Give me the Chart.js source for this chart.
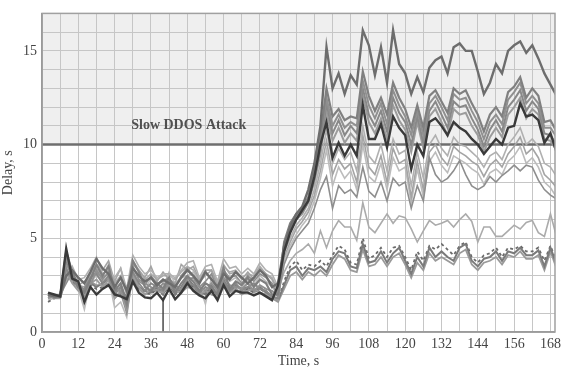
<!DOCTYPE html>
<html>
<head>
<meta charset="utf-8">
<script src="https://cdn.jsdelivr.net/npm/chart.js@4/dist/chart.umd.min.js"></script>
<style>
  html, body { margin: 0; padding: 0; background: #fff; }
  canvas { display: block; }
</style>
</head>
<body>
<canvas id="delayChart" width="565" height="370"></canvas>
<script>
// sample times, s
const times = [
  2, 4, 6, 8, 10, 12, 14, 16, 18, 20, 22, 24, 26, 28, 30, 32, 34, 36, 38, 40,
  42, 44, 46, 48, 50, 52, 54, 56, 58, 60, 62, 64, 66, 68, 70, 72, 74, 76, 78,
  80, 82, 84, 86, 88, 90, 92, 94, 96, 98, 100, 102, 104, 106, 108, 110, 112, 114, 116, 118,
  120, 122, 124, 126, 128, 130, 132, 134, 136, 138, 140, 142, 144, 146, 148, 150, 152, 154, 156, 158,
  160, 162, 164, 166, 168, 170
];

// delay per node, s (before attack: 2..78, attack: 80..170)
const nodeTop = [
  2.0, 1.9, 1.9, 3.0, 3.3, 2.9, 2.6, 3.2, 3.9, 3.4, 3.1, 2.4, 2.9, 2.2, 3.4, 3.0, 2.7, 2.9, 2.5, 2.8,
  2.6, 2.4, 2.9, 3.3, 3.0, 2.6, 3.2, 2.8, 2.4, 3.1, 2.8, 3.2, 2.9, 2.6, 2.9, 3.3, 3.0, 2.4, 2.6,
  4.6, 5.6, 6.3, 6.7, 7.6, 9.0, 11.0, 15.2, 13.0, 13.8, 12.7, 13.7, 13.2, 16.1, 15.3, 13.7, 15.2, 13.3, 16.1, 14.3,
  13.8, 12.7, 13.6, 12.8, 14.1, 14.5, 14.7, 13.8, 15.2, 15.4, 15.0, 15.0, 13.9, 12.7, 13.3, 14.3, 13.8, 15.0, 15.3, 15.5,
  14.9, 15.3, 14.6, 13.8, 13.2, 12.6
];
const nodeB1 = [
  2.0, 1.9, 1.9, 4.3, 3.2, 2.4, 2.1, 2.8, 3.6, 3.0, 3.5, 2.2, 2.6, 1.6, 3.8, 3.2, 2.4, 2.2, 2.6, 2.3,
  2.9, 2.1, 2.6, 3.0, 2.7, 2.2, 2.6, 2.4, 2.0, 3.4, 2.3, 2.7, 2.5, 2.9, 2.4, 2.8, 2.6, 2.0, 2.0,
  4.8, 5.8, 6.3, 6.6, 7.2, 8.6, 10.5, 13.0, 11.5, 11.9, 11.3, 11.5, 11.4, 13.9, 12.6, 11.8, 12.5, 11.6, 13.3, 12.5,
  11.9, 10.9, 12.1, 10.9, 12.6, 12.9, 12.3, 11.7, 13.0, 12.7, 12.9, 12.2, 11.6, 10.7, 11.6, 12.0, 11.5, 12.8, 13.1, 13.6,
  12.5, 13.0, 12.6, 11.2, 11.3, 10.7
];
const nodeB2 = [
  2.1, 1.8, 1.9, 4.0, 3.0, 2.6, 1.8, 2.5, 3.3, 2.8, 3.2, 2.5, 2.1, 1.9, 3.5, 2.8, 2.6, 2.4, 2.2, 2.6,
  2.4, 2.3, 2.3, 2.8, 2.9, 2.4, 2.2, 2.6, 2.2, 2.9, 2.5, 2.4, 2.3, 2.6, 2.2, 2.5, 2.3, 2.2, 1.9,
  4.7, 5.6, 6.2, 6.6, 7.1, 8.4, 10.2, 12.5, 11.0, 11.6, 10.9, 11.2, 11.0, 13.4, 12.1, 11.4, 12.2, 11.1, 12.9, 12.1,
  11.5, 10.5, 11.8, 10.5, 12.2, 12.6, 12.0, 11.3, 12.7, 12.4, 12.5, 11.8, 11.2, 10.3, 11.2, 11.6, 11.1, 12.4, 12.8, 13.3,
  12.2, 12.6, 12.2, 10.9, 10.9, 10.4
];
const nodeB3 = [
  1.9, 1.9, 2.0, 3.4, 2.8, 2.4, 2.3, 2.9, 3.1, 2.6, 3.0, 2.0, 2.4, 1.4, 3.2, 2.6, 2.2, 2.6, 2.4, 2.2,
  2.7, 2.5, 2.2, 2.6, 2.5, 2.1, 2.4, 2.2, 2.1, 2.7, 2.2, 2.6, 2.2, 2.4, 2.6, 2.3, 2.2, 1.9, 1.8,
  4.5, 5.5, 6.1, 6.4, 7.0, 8.2, 9.8, 12.2, 10.6, 11.3, 10.5, 11.0, 10.6, 13.0, 11.6, 11.0, 11.8, 10.7, 12.5, 11.7,
  11.2, 10.0, 11.5, 10.1, 11.8, 12.3, 11.6, 10.9, 12.3, 12.0, 12.1, 11.4, 10.8, 9.9, 10.8, 11.3, 10.7, 12.0, 12.4, 12.9,
  11.8, 12.3, 11.9, 10.6, 10.5, 10.0
];
const nodeB4 = [
  2.0, 1.8, 1.8, 3.2, 2.6, 2.2, 2.0, 2.6, 2.8, 2.4, 2.8, 1.8, 2.2, 1.2, 3.0, 2.4, 2.0, 2.3, 2.2, 2.1,
  2.5, 2.2, 2.1, 2.4, 2.3, 2.0, 2.2, 2.0, 1.9, 2.5, 2.1, 2.3, 2.0, 2.2, 2.3, 2.1, 2.0, 1.8, 1.7,
  4.4, 5.4, 6.0, 6.3, 6.9, 8.0, 9.5, 11.8, 10.2, 10.9, 10.1, 10.6, 10.2, 12.6, 11.2, 10.6, 11.4, 10.3, 12.1, 11.3,
  10.8, 9.6, 11.2, 9.8, 11.5, 11.9, 11.2, 10.5, 11.9, 11.6, 11.7, 11.0, 10.5, 9.6, 10.4, 10.9, 10.4, 11.6, 12.0, 12.5,
  11.4, 11.9, 11.6, 10.3, 10.2, 9.7
];
const nodeDark = [
  2.1, 2.0, 1.9, 4.45, 2.85, 2.7, 1.6, 2.4, 2.0, 2.3, 2.5, 2.0, 1.9, 1.75, 2.7, 2.1, 1.85, 1.8, 2.1, 1.7,
  2.3, 1.75, 2.1, 2.6, 2.2, 1.95, 1.8, 2.2, 1.7, 2.5, 1.9, 2.2, 2.1, 2.1, 1.95, 2.1, 1.9, 1.7, 2.5,
  4.3, 5.3, 6.0, 6.5, 7.0, 8.3, 10.0, 11.2, 9.3, 10.1, 9.4, 10.0, 9.4, 12.1, 10.3, 10.3, 11.1, 9.85, 11.5, 10.9,
  10.5, 8.7, 10.0, 9.4, 11.2, 11.4, 11.0, 10.5, 11.2, 10.9, 10.7, 10.3, 10.0, 9.5, 9.9, 10.3, 10.0, 10.9, 11.0, 12.2,
  11.5, 11.6, 11.3, 10.1, 10.6, 9.6
];
const nodeD1 = [
  1.8, 2.0, 2.0, 2.9, 3.5, 2.8, 2.9, 3.4, 4.0, 3.1, 3.3, 2.9, 3.4, 2.3, 4.1, 3.5, 3.1, 3.3, 2.9, 3.1,
  3.1, 2.9, 3.3, 3.7, 3.8, 2.9, 3.5, 3.6, 2.7, 3.9, 3.4, 3.5, 3.1, 3.4, 3.1, 3.7, 3.3, 3.1, 2.4,
  4.2, 5.0, 5.7, 6.1, 6.6, 7.6, 9.0, 10.8, 9.0, 9.8, 9.2, 9.6, 8.6, 11.0, 9.4, 9.0, 10.0, 8.6, 10.3, 9.5,
  9.7, 7.8, 9.6, 8.2, 10.0, 10.5, 9.8, 9.4, 10.4, 10.0, 9.9, 9.6, 9.3, 8.8, 9.4, 9.6, 9.2, 10.0, 10.4, 10.9,
  10.0, 10.3, 9.9, 9.0, 8.8, 8.3
];
const nodeD2 = [
  1.9, 1.9, 1.8, 2.8, 3.0, 2.5, 2.4, 3.1, 3.6, 3.3, 3.8, 2.7, 3.4, 2.0, 3.6, 3.3, 2.9, 3.5, 2.7, 3.2,
  2.8, 2.6, 3.6, 3.3, 3.5, 2.8, 3.3, 3.3, 2.5, 3.6, 3.1, 3.2, 2.8, 3.2, 2.8, 3.4, 3.1, 2.8, 2.2,
  4.0, 4.8, 5.5, 5.9, 6.4, 7.3, 8.6, 10.2, 8.4, 9.2, 8.7, 9.0, 8.0, 10.5, 8.8, 8.4, 9.4, 8.0, 9.8, 9.0,
  9.2, 7.2, 9.1, 7.6, 9.6, 10.0, 9.3, 8.9, 9.9, 9.6, 9.4, 9.1, 8.9, 8.3, 8.9, 9.2, 8.8, 9.5, 9.9, 10.4,
  9.5, 9.8, 9.3, 8.4, 8.1, 7.7
];
const nodeD3 = [
  1.7, 1.8, 1.9, 3.1, 2.7, 2.3, 1.2, 2.7, 3.0, 2.7, 2.9, 1.3, 1.6, 0.8, 3.3, 2.4, 2.2, 2.9, 2.4, 2.4,
  3.2, 2.6, 2.9, 3.0, 3.2, 2.5, 1.5, 2.9, 2.1, 3.2, 2.7, 2.9, 2.4, 2.8, 2.5, 3.0, 2.7, 2.4, 2.0,
  3.8, 4.6, 5.2, 5.7, 6.1, 7.0, 8.2, 9.7, 7.8, 8.8, 8.2, 8.6, 7.6, 10.0, 8.3, 8.0, 9.0, 7.6, 9.3, 8.6,
  8.8, 6.9, 8.7, 7.2, 9.1, 9.6, 8.9, 8.5, 9.4, 9.2, 9.0, 8.7, 8.5, 7.9, 8.5, 8.7, 8.4, 9.1, 9.4, 9.9,
  9.0, 9.3, 8.8, 8.0, 7.7, 7.2
];
const nodeE = [
  1.8, 1.9, 2.0, 2.6, 3.2, 2.6, 2.2, 2.9, 3.2, 2.9, 3.1, 1.8, 2.1, 1.0, 3.0, 2.7, 2.5, 3.0, 2.6, 2.7,
  2.9, 2.4, 3.0, 3.4, 3.0, 2.4, 2.7, 3.1, 2.3, 3.3, 2.9, 3.0, 2.6, 3.0, 2.7, 3.1, 2.9, 2.6, 1.9,
  3.6, 4.4, 5.0, 5.4, 5.8, 6.6, 7.6, 8.3, 6.6, 7.8, 7.4, 7.6, 7.2, 8.8, 7.5, 7.2, 8.0, 7.0, 8.2, 7.8,
  8.0, 6.6, 7.8, 7.0, 9.3, 8.4, 8.0, 8.2, 8.6, 9.15, 8.4, 7.8, 7.6, 7.8, 8.3, 8.0, 8.35, 8.6, 8.9, 8.6,
  8.9, 8.8, 8.1, 7.6, 7.3, 7.1
];
const nodeF = [
  1.9, 1.8, 1.9, 2.8, 3.1, 2.5, 2.7, 3.0, 3.4, 3.0, 3.6, 2.6, 3.0, 2.0, 3.8, 3.3, 2.8, 3.1, 2.8, 3.0,
  3.0, 2.8, 3.2, 3.5, 3.3, 2.7, 3.0, 3.3, 2.6, 3.5, 3.2, 3.3, 2.9, 3.1, 3.0, 3.5, 3.1, 2.9, 2.2,
  3.2, 3.8, 4.2, 4.4, 4.7, 4.2, 5.4, 4.5, 5.4, 5.95, 5.6, 5.6, 4.9, 6.9, 5.6, 5.3, 5.8, 6.3, 5.8, 6.2,
  6.1, 5.5, 4.8, 5.4, 5.95, 5.7, 5.8, 5.95, 5.6, 6.0, 6.3, 5.9, 4.8, 5.6, 5.6, 5.1, 5.1, 5.4, 5.7, 5.5,
  5.85, 5.95, 5.3, 5.1, 6.3, 5.1
];
const nodeG1 = [
  2.0, 1.9, 1.9, 3.9, 2.9, 2.5, 2.0, 2.6, 2.4, 2.6, 2.8, 2.3, 2.2, 1.9, 2.9, 2.4, 2.2, 2.1, 2.4, 2.0,
  2.6, 2.0, 2.4, 2.9, 2.5, 2.2, 2.0, 2.5, 1.9, 2.8, 2.2, 2.5, 2.3, 2.4, 2.2, 2.4, 2.1, 1.9, 1.7,
  2.5, 3.3, 3.5, 3.0, 3.4, 3.3, 3.5, 3.2, 3.9, 4.3, 4.2, 3.5, 3.4, 4.7, 3.7, 3.8, 4.3, 3.7, 4.2, 4.5,
  3.8, 3.1, 4.0, 3.5, 4.5, 4.0, 4.3, 4.0, 3.8, 4.5, 4.7, 3.8, 3.5, 3.9, 4.0, 4.3, 3.8, 4.3, 4.2, 4.5,
  4.1, 4.1, 4.35, 3.5, 4.5, 3.6
];
const nodeG2 = [
  1.8, 1.9, 2.0, 3.6, 3.0, 2.3, 1.9, 2.7, 2.5, 2.5, 2.6, 2.1, 2.4, 1.7, 2.8, 2.3, 2.0, 2.2, 2.2, 2.1,
  2.4, 2.2, 2.2, 2.7, 2.4, 2.0, 2.1, 2.3, 2.0, 2.6, 2.3, 2.3, 2.1, 2.3, 2.1, 2.3, 2.2, 1.8, 1.6,
  2.3, 3.0, 3.2, 2.8, 3.2, 3.0, 3.3, 3.0, 3.6, 4.1, 3.9, 3.3, 3.2, 4.4, 3.5, 3.6, 4.0, 3.5, 4.0, 4.2,
  3.6, 2.9, 3.7, 3.3, 4.2, 3.8, 4.0, 3.8, 3.6, 4.2, 4.4, 3.6, 3.3, 3.7, 3.8, 4.0, 3.6, 4.1, 4.0, 4.3,
  3.9, 3.9, 4.1, 3.3, 4.3, 3.4
];
const nodeG3 = [
  1.6, 1.8, 1.9, 3.3, 2.7, 2.4, 2.1, 2.5, 2.3, 2.4, 2.5, 2.1, 2.0, 1.8, 2.6, 2.3, 2.1, 2.0, 2.3, 2.0,
  2.5, 2.0, 2.3, 2.7, 2.4, 2.1, 2.0, 2.4, 1.8, 2.6, 2.2, 2.4, 2.2, 2.3, 2.1, 2.3, 2.1, 1.8, 1.7,
  2.7, 3.5, 3.8, 3.3, 3.6, 3.5, 3.8, 3.5, 4.1, 4.6, 4.4, 3.7, 3.6, 5.0, 3.9, 4.1, 4.5, 4.0, 4.5, 4.6,
  4.0, 3.3, 4.3, 3.8, 4.6, 4.4, 4.7, 4.4, 4.1, 4.6, 4.8, 4.0, 3.7, 4.1, 4.2, 4.5, 4.0, 4.5, 4.4, 4.6,
  4.3, 4.3, 4.5, 3.8, 4.6, 3.8
];

// packet loss dropout at t = 40
const dropTimes = [40, 40];
const dropValues = [1.7, 0];

const xTicks = [0, 12, 24, 36, 48, 60, 72, 84, 96, 108, 120, 132, 144, 156, 168];
const yTicks = [0, 5, 10, 15];

const attackLevel = 10;
const attackLabel = 'Slow DDOS Attack';

const serif = '"Liberation Serif", "DejaVu Serif", serif';

function series(values, color, width, dash) {
    return {
        data: times.map((t, i) => ({ x: t, y: values[i] })),
        borderColor: color,
        borderWidth: width,
        borderDash: dash || [],
        pointRadius: 0,
        tension: 0,
        fill: false
    };
}

// shaded attack zone, threshold line and frame
const attackZone = {
    id: 'attackZone',
    beforeDraw(chart) {
        const { ctx, chartArea: a, scales: { y } } = chart;
        ctx.save();
        ctx.fillStyle = '#fff';
        ctx.fillRect(0, 0, chart.width, chart.height);
        ctx.fillStyle = '#efefef';
        const y10 = y.getPixelForValue(attackLevel);
        ctx.fillRect(a.left, a.top, a.right - a.left, y10 - a.top);
        ctx.restore();
    },
    beforeDatasetsDraw(chart) {
        const { ctx, chartArea: a, scales: { x, y } } = chart;
        const y10 = y.getPixelForValue(attackLevel);
        ctx.save();
        ctx.strokeStyle = '#6e6e6e';
        ctx.lineWidth = 2.5;
        ctx.beginPath();
        ctx.moveTo(a.left, y10);
        ctx.lineTo(a.right, y10);
        ctx.stroke();
        ctx.fillStyle = '#505050';
        ctx.font = 'bold 14px ' + serif;
        ctx.textAlign = 'center';
        ctx.textBaseline = 'middle';
        ctx.fillText(attackLabel, x.getPixelForValue(48.5), y.getPixelForValue(11));
        ctx.restore();
    },
    afterDraw(chart) {
        const { ctx, chartArea: a } = chart;
        ctx.save();
        ctx.strokeStyle = '#a0a0a0';
        ctx.lineWidth = 1.5;
        ctx.strokeRect(a.left, a.top, a.right - a.left, a.bottom - a.top);
        ctx.restore();
    }
};

const datasets = [
    series(nodeDark, '#3a3a3a', 2.4),
    series(nodeTop, '#6d6d6d', 2.4),
    series(nodeB1, '#808080', 2.2),
    series(nodeB2, '#909090', 2),
    series(nodeB3, '#888888', 2),
    series(nodeB4, '#9c9c9c', 2),
    series(nodeG1, '#7a7a7a', 2),
    series(nodeG3, '#6a6a6a', 1.8, [3, 3]),
    series(nodeG2, '#9a9a9a', 1.8),
    series(nodeE, '#8e8e8e', 1.6),
    series(nodeD1, '#b0b0b0', 1.6),
    series(nodeD2, '#a4a4a4', 1.6),
    series(nodeD3, '#bcbcbc', 1.6),
    series(nodeF, '#ababab', 1.6),
    {
        data: dropTimes.map((t, i) => ({ x: t, y: dropValues[i] })),
        borderColor: '#4a4a4a',
        borderWidth: 1.5,
        pointRadius: 0,
        fill: false
    }
];

new Chart(document.getElementById('delayChart').getContext('2d'), {
    type: 'line',
    data: { datasets },
    options: {
        responsive: false,
        animation: false,
        devicePixelRatio: 1,
        layout: { padding: { top: 13, right: 5, left: 0, bottom: 0 } },
        plugins: { legend: { display: false }, tooltip: { enabled: false } },
        scales: {
            x: {
                type: 'linear',
                min: 0,
                max: 169.5,
                afterFit(scale) { scale.height = 38; },
                grid: { color: '#c6c6c6', lineWidth: 1, drawTicks: false },
                border: { color: '#8a8a8a', width: 1.5 },
                ticks: {
                    stepSize: 6,
                    autoSkip: false,
                    includeBounds: false,
                    maxRotation: 0,
                    padding: 4,
                    color: '#444',
                    font: { family: serif, size: 14 },
                    callback: v => xTicks.includes(v) ? String(v) : ''
                },
                title: {
                    display: true,
                    text: 'Time, s',
                    color: '#444',
                    font: { family: serif, size: 14 },
                    padding: { top: 0, bottom: 0 }
                }
            },
            y: {
                min: 0,
                max: 17,
                afterFit(scale) { scale.width = 42; },
                grid: { color: '#c6c6c6', lineWidth: 1, drawTicks: false },
                border: { color: '#8a8a8a', width: 1.5 },
                ticks: {
                    stepSize: 1,
                    autoSkip: false,
                    padding: 5,
                    color: '#444',
                    font: { family: serif, size: 14 },
                    callback: v => yTicks.includes(v) ? String(v) : ''
                },
                title: {
                    display: true,
                    text: 'Delay, s',
                    color: '#444',
                    font: { family: serif, size: 14 },
                    padding: { top: 0, bottom: 2 }
                }
            }
        }
    },
    plugins: [attackZone]
});
</script>
</body>
</html>
